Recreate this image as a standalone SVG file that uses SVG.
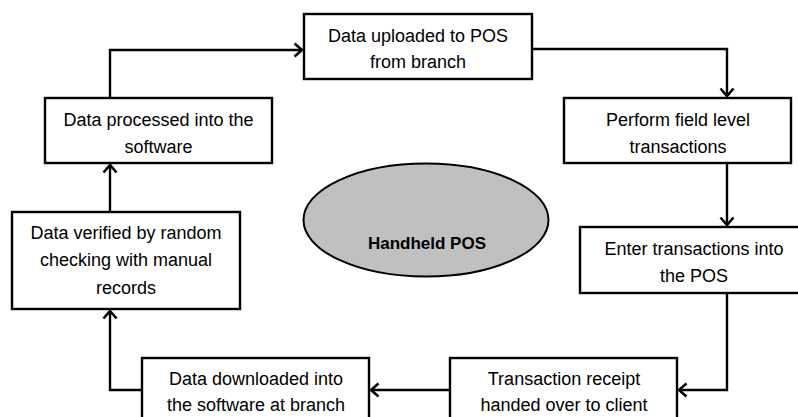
<svg xmlns="http://www.w3.org/2000/svg" width="798" height="417" viewBox="0 0 798 417">
  <style>
    .box { fill: #ffffff; stroke: #000000; stroke-width: 2.4; }
    .lbl { font-family: "Liberation Sans", Arial, sans-serif; font-size: 18px; fill: #000000; text-anchor: middle; }
    .bold { font-weight: bold; font-size: 17px; }
    .conn { fill: none; stroke: #000000; stroke-width: 2.4; marker-end: url(#arrow); }
  </style>
  <defs>
    <marker id="arrow" viewBox="-10 -8 12 16" markerWidth="12" markerHeight="16" refX="0" refY="0" markerUnits="userSpaceOnUse" orient="auto">
      <path d="M-7.5,-6.5 L0,0 L-7.5,6.5" fill="none" stroke="#000000" stroke-width="2.6"/>
    </marker>
  </defs>
  <rect width="798" height="417" fill="#ffffff"/>

  <g id="connectors">
    <path class="conn" d="M110,98 V50 H302"/>
    <path class="conn" d="M532,49 H727 V96"/>
    <path class="conn" d="M727,163 V225"/>
    <path class="conn" d="M727,293 V390 H679"/>
    <path class="conn" d="M450,390 H371"/>
    <path class="conn" d="M142,390 H110 V311"/>
    <path class="conn" d="M110,212 V165"/>
  </g>

  <g id="handheld">
    <ellipse cx="426" cy="220" rx="122.5" ry="56.5" fill="#c0c0c0" stroke="#000000" stroke-width="2"/>
    <text class="lbl bold" x="427" y="249">Handheld POS</text>
  </g>

  <g id="uploaded">
    <rect class="box" x="304" y="14" width="228" height="65"/>
    <text class="lbl" x="418" y="42">Data uploaded to POS</text>
    <text class="lbl" x="418" y="68">from branch</text>
  </g>

  <g id="perform">
    <rect class="box" x="564" y="98" width="227" height="65"/>
    <text class="lbl" x="678" y="126">Perform field level</text>
    <text class="lbl" x="678" y="153">transactions</text>
  </g>

  <g id="enter">
    <rect class="box" x="580" y="227" width="230" height="66"/>
    <text class="lbl" x="694" y="255">Enter transactions into</text>
    <text class="lbl" x="694" y="282">the POS</text>
  </g>

  <g id="receipt">
    <rect class="box" x="450" y="358" width="227" height="70"/>
    <text class="lbl" x="564" y="385">Transaction receipt</text>
    <text class="lbl" x="564" y="411">handed over to client</text>
  </g>

  <g id="downloaded">
    <rect class="box" x="142" y="358" width="227" height="70"/>
    <text class="lbl" x="256" y="385">Data downloaded into</text>
    <text class="lbl" x="256" y="411">the software at branch</text>
  </g>

  <g id="verified">
    <rect class="box" x="12" y="212" width="228" height="97"/>
    <text class="lbl" x="126" y="239">Data verified by random</text>
    <text class="lbl" x="126" y="266">checking with manual</text>
    <text class="lbl" x="126" y="294">records</text>
  </g>

  <g id="processed">
    <rect class="box" x="45" y="98" width="227" height="65"/>
    <text class="lbl" x="158.5" y="126">Data processed into the</text>
    <text class="lbl" x="158.5" y="153">software</text>
  </g>
</svg>
